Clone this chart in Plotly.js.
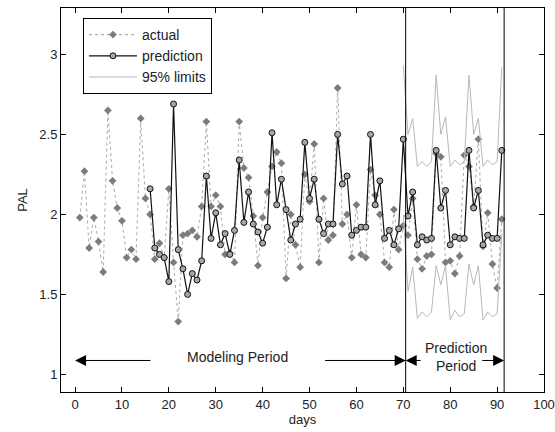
<!DOCTYPE html>
<html>
<head>
<meta charset="utf-8">
<script src="https://cdn.plot.ly/plotly-3.0.1.min.js"></script>
<style>
html,body{margin:0;padding:0;background:#fff;}
#chart{width:555px;height:432px;}
</style>
</head>
<body>
<div id="chart"></div>
<script>
// ---- data ----
var actualDays = [1,2,3,4,5,6,7,8,9,10,11,12,13,14,15,16,17,18,19,20,21,22,23,24,25,26,27,28,29,30,
  31,32,33,34,35,36,37,38,39,40,41,42,43,44,45,46,47,48,49,50,51,52,53,54,55,56,57,58,59,60,
  61,62,63,64,65,66,67,68,69,70,71,72,73,74,75,76,77,78,79,80,81,82,83,84,85,86,87,88,89,90,91];
var actualPAL = [1.98,2.27,1.79,1.98,1.83,1.64,2.65,2.21,2.04,1.96,1.73,1.78,1.72,2.60,2.10,2.00,1.72,1.82,1.73,2.16,
  1.70,1.33,1.87,1.88,1.90,1.86,2.05,2.58,2.05,2.12,2.05,1.75,1.76,1.70,2.58,2.29,2.23,1.99,1.68,1.98,
  2.14,2.30,2.39,2.32,1.60,2.00,1.81,1.67,2.25,2.08,2.44,1.70,2.10,1.84,1.87,2.79,1.94,2.00,1.73,2.06,
  1.75,1.73,2.28,2.12,2.00,1.70,1.67,2.03,1.78,1.93,1.87,2.10,1.72,1.66,1.74,1.75,2.38,2.36,1.70,1.71,
  1.63,1.74,2.37,2.30,2.05,2.47,1.80,2.01,1.69,1.54,1.97];

var predDays = [16,17,18,19,20,21,22,23,24,25,26,27,28,29,30,31,32,33,34,35,36,37,38,39,40,
  41,42,43,44,45,46,47,48,49,50,51,52,53,54,55,56,57,58,59,60,61,62,63,64,65,66,67,68,69,70,
  71,72,73,74,75,76,77,78,79,80,81,82,83,84,85,86,87,88,89,90,91];
var predPAL = [2.16,1.79,1.75,1.73,1.58,2.69,1.78,1.66,1.50,1.63,1.59,1.71,2.24,1.85,2.01,1.81,1.88,1.75,1.90,2.34,
  1.95,2.14,1.94,1.89,1.82,1.92,2.51,2.06,2.22,2.03,1.84,1.94,1.97,2.45,2.10,2.22,1.97,1.88,1.94,1.94,
  2.50,2.19,2.24,1.87,1.90,1.92,1.92,2.50,2.06,2.21,1.85,1.90,1.81,1.91,2.47,
  1.99,2.14,1.81,1.86,1.84,1.85,2.40,2.04,2.15,1.81,1.86,1.85,1.85,2.40,2.04,2.15,1.81,1.87,1.85,1.85,2.40];

var limitDays = [70,71,72,73,74,75,76,77,78,79,80,81,82,83,84,85,86,87,88,89,90,91];
var upperPAL = [2.93,2.50,2.60,2.30,2.33,2.30,2.33,2.87,2.50,2.61,2.30,2.34,2.31,2.33,2.87,2.50,2.60,2.30,2.34,2.31,2.33,2.92];
var lowerPAL = [2.00,1.52,1.67,1.35,1.39,1.36,1.39,1.68,1.56,1.68,1.34,1.40,1.36,1.38,1.69,1.56,1.68,1.34,1.39,1.36,1.38,1.88];

var xTicks = [0,10,20,30,40,50,60,70,80,90,100];
var yTicks = [1,1.5,2,2.5,3];
var periodBounds = [0, 70.5, 91.5];
var legendNames = ['actual','prediction','95% limits'];

var FONT = '"Liberation Sans", Arial, sans-serif';

var traces = [
  {x: actualDays, y: actualPAL, name: legendNames[0], type:'scatter', mode:'lines+markers',
   line:{color:'#b0b0b0', width:1.1, dash:'dot'},
   marker:{symbol:'diamond', size:6, color:'#7c7c7c', line:{width:0}}},
  {x: predDays, y: predPAL, name: legendNames[1], type:'scatter', mode:'lines+markers',
   line:{color:'#111', width:1.2},
   marker:{symbol:'circle', size:6, color:'#a6a6a6', line:{color:'#111', width:1}}},
  {x: limitDays, y: upperPAL, name: legendNames[2], type:'scatter', mode:'lines', legendgroup:'lim',
   line:{color:'#b8b8b8', width:1}},
  {x: limitDays, y: lowerPAL, name: legendNames[2], type:'scatter', mode:'lines', legendgroup:'lim', showlegend:false,
   line:{color:'#b8b8b8', width:1}}
];

var arrowY = 1.087;
var arrowStyle = {xref:'x', yref:'y', axref:'x', ayref:'y', text:'', showarrow:true,
  arrowhead:2, arrowsize:2.2, arrowwidth:1, arrowcolor:'#000'};
function arrow(tip, tail){
  var a = Object.assign({}, arrowStyle);
  a.x = tip; a.ax = tail; a.y = arrowY; a.ay = arrowY;
  return a;
}
var annots = [
  arrow(periodBounds[0], 16.4),
  arrow(periodBounds[1], 53),
  {x: 34.6, y: 1.11, xref:'x', yref:'y', text:'Modeling Period', showarrow:false,
   font:{family:FONT, size:14, color:'#222'}},
  arrow(periodBounds[1], 74),
  arrow(periodBounds[2], 86.5),
  {x: 81.2, y: 1.11, xref:'x', yref:'y', text:'Prediction<br>Period', showarrow:false,
   font:{family:FONT, size:14, color:'#222'}}
];

var shapes = [
  {type:'line', xref:'x', yref:'paper', x0: periodBounds[1], x1: periodBounds[1], y0:0, y1:1, line:{color:'#000', width:1}},
  {type:'line', xref:'x', yref:'paper', x0: periodBounds[2], x1: periodBounds[2], y0:0, y1:1, line:{color:'#000', width:1}}
];

var layout = {
  width:555, height:432,
  margin:{l:61, r:11, t:8, b:40, pad:0},
  paper_bgcolor:'#fff', plot_bgcolor:'#fff',
  font:{family:FONT, size:13, color:'#222'},
  showlegend:true,
  legend:{x:0.0455, y:0.974, xanchor:'left', yanchor:'top', bgcolor:'#fff',
    bordercolor:'#000', borderwidth:1, font:{family:FONT, size:14, color:'#222'},
    itemwidth:48, tracegroupgap:0},
  xaxis:{range:[-3,100], tickvals:xTicks, ticktext:xTicks.map(String), ticks:'inside', ticklen:5,
    tickcolor:'#000', showline:true, linecolor:'#000', linewidth:1, mirror:'ticks',
    showgrid:false, zeroline:false, title:{text:'days', standoff:4, font:{family:FONT, size:13, color:'#222'}},
    tickfont:{family:FONT, size:13, color:'#222'}},
  yaxis:{range:[0.89,3.29], tickvals:yTicks, ticktext:['1','1.5','2','2.5','3'], ticks:'inside', ticklen:5,
    tickcolor:'#000', showline:true, linecolor:'#000', linewidth:1, mirror:'ticks',
    showgrid:false, zeroline:false, title:{text:'PAL', standoff:8, font:{family:FONT, size:13, color:'#222'}},
    tickfont:{family:FONT, size:13, color:'#222'}},
  annotations: annots,
  shapes: shapes
};

Plotly.newPlot('chart', traces, layout, {displayModeBar:false, staticPlot:true});
</script>
</body>
</html>
